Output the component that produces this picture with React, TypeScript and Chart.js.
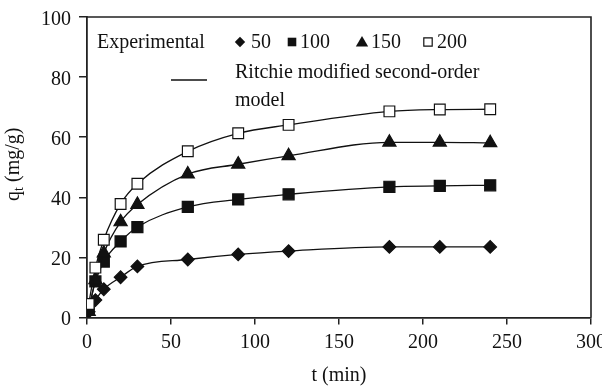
import React, { useEffect, useRef } from "react";
import { Chart, registerables } from "chart.js";

Chart.register(...registerables);

const times = [1, 5, 10, 20, 30, 60, 90, 120, 180, 210, 240];
const q50 = [1.9, 5.8, 9.4, 13.4, 17.0, 19.3, 21.0, 22.1, 23.5, 23.5, 23.5];
const q100 = [3.0, 12.0, 18.6, 25.3, 30.1, 36.8, 39.3, 41.0, 43.5, 43.8, 44.0];
const q150 = [2.0, 12.5, 21.4, 31.8, 37.6, 47.7, 51.0, 53.8, 58.3, 58.3, 58.1];
const q200 = [4.5, 16.6, 25.9, 37.8, 44.5, 55.3, 61.3, 64.1, 68.6, 69.2, 69.3];
const seriesLabels = ["50", "100", "150", "200"];
const xTitle = "t (min)";
const yTitleMain = "q";
const yTitleSub = "t";
const yTitleRest = " (mg/g)";
const legendHead = "Experimental";
const legendModel1 = "Ritchie modified second-order";
const legendModel2 = "model";

const FONT = "\"Liberation Serif\", \"DejaVu Serif\", serif";
const INK = "#111";

function drawMarker(ctx: CanvasRenderingContext2D, kind: string, x: number, y: number, s: number) {
  ctx.save();
  ctx.fillStyle = INK;
  ctx.strokeStyle = INK;
  ctx.lineWidth = 1.2;
  ctx.beginPath();
  if (kind === "diamond") {
    ctx.moveTo(x, y - s);
    ctx.lineTo(x + s, y);
    ctx.lineTo(x, y + s);
    ctx.lineTo(x - s, y);
    ctx.closePath();
    ctx.fill();
  } else if (kind === "square") {
    ctx.rect(x - s, y - s, 2 * s, 2 * s);
    ctx.fill();
  } else if (kind === "triangle") {
    ctx.moveTo(x, y - s * 1.05);
    ctx.lineTo(x + s * 1.1, y + s * 0.8);
    ctx.lineTo(x - s * 1.1, y + s * 0.8);
    ctx.closePath();
    ctx.fill();
  } else {
    ctx.fillStyle = "#fff";
    ctx.rect(x - s, y - s, 2 * s, 2 * s);
    ctx.fill();
    ctx.stroke();
  }
  ctx.restore();
}

const decorPlugin = {
  id: "decor",
  afterDraw(chart: any) {
    const ctx: CanvasRenderingContext2D = chart.ctx;
    const a = chart.chartArea;
    ctx.save();
    ctx.strokeStyle = "#222";
    ctx.lineWidth = 1.6;
    ctx.beginPath();
    ctx.moveTo(a.left, a.top);
    ctx.lineTo(a.right, a.top);
    ctx.lineTo(a.right, a.bottom);
    ctx.stroke();

    ctx.fillStyle = INK;
    ctx.textBaseline = "alphabetic";
    ctx.font = `20px ${FONT}`;
    const wMain = ctx.measureText(yTitleMain).width;
    const wRest = ctx.measureText(yTitleRest).width;
    ctx.font = `14px ${FONT}`;
    const wSub = ctx.measureText(yTitleSub).width;
    const total = wMain + wSub + wRest;
    const cy = (a.top + a.bottom) / 2 - 3;
    ctx.translate(19, cy);
    ctx.rotate(-Math.PI / 2);
    let x0 = -total / 2;
    ctx.font = `20px ${FONT}`;
    ctx.fillText(yTitleMain, x0, 0);
    x0 += wMain;
    ctx.font = `14px ${FONT}`;
    ctx.fillText(yTitleSub, x0, 4);
    x0 += wSub;
    ctx.font = `20px ${FONT}`;
    ctx.fillText(yTitleRest, x0, 0);
    ctx.setTransform(1, 0, 0, 1, 0, 0);

    ctx.textAlign = "center";
    ctx.textBaseline = "middle";
    ctx.font = `20px ${FONT}`;
    ctx.fillText(xTitle, (a.left + a.right) / 2, 376);

    ctx.textAlign = "left";
    ctx.textBaseline = "alphabetic";
    ctx.fillText(legendHead, 97, 48);
    const kinds = ["diamond", "square", "triangle", "open"];
    const mx = [240, 292, 362, 428];
    const tx = [251, 300, 371, 437];
    const ms = [5.2, 4.3, 5.6, 4.2];
    kinds.forEach((k, i) => {
      drawMarker(ctx, k, mx[i], 42, ms[i]);
      ctx.fillStyle = INK;
      ctx.fillText(seriesLabels[i], tx[i], 48);
    });
    ctx.strokeStyle = INK;
    ctx.lineWidth = 1.4;
    ctx.beginPath();
    ctx.moveTo(171, 80);
    ctx.lineTo(207, 80);
    ctx.stroke();
    ctx.fillStyle = INK;
    ctx.fillText(legendModel1, 235, 78);
    ctx.fillText(legendModel2, 235, 106);
    ctx.restore();
  },
};

function mk(label: string, ys: number[], style: string, radius: number, fill: string, order: number) {
  return {
    label,
    data: times.map((t, i) => ({ x: t, y: ys[i] })),
    borderColor: INK,
    borderWidth: 1.3,
    backgroundColor: fill,
    pointStyle: style,
    pointRadius: radius,
    pointBackgroundColor: fill,
    pointBorderColor: INK,
    pointBorderWidth: 1.2,
    cubicInterpolationMode: "monotone",
    showLine: true,
    order,
  };
}

export default function App() {
  const ref = useRef<HTMLCanvasElement | null>(null);
  useEffect(() => {
    if (!ref.current) return;
    const chart = new Chart(ref.current, {
      type: "scatter",
      data: {
        datasets: [
          mk(seriesLabels[0], q50, "rectRot", 6.3, INK, 4),
          mk(seriesLabels[1], q100, "rect", 7.8, INK, 3),
          mk(seriesLabels[2], q150, "triangle", 7.6, INK, 2),
          mk(seriesLabels[3], q200, "rect", 7.6, "#fff", 1),
        ] as any,
      },
      options: {
        animation: false,
        responsive: false,
        maintainAspectRatio: false,
        layout: { padding: { top: 17, right: 11, left: 0, bottom: 0 } },
        plugins: { legend: { display: false }, tooltip: { enabled: false } },
        scales: {
          x: {
            type: "linear",
            min: 0,
            max: 300,
            ticks: { stepSize: 50, color: INK, font: { family: FONT, size: 20 }, padding: 6, maxRotation: 0 },
            grid: { display: true, drawOnChartArea: false, drawTicks: true, tickLength: 7, color: "#222", lineWidth: 1.5 },
            border: { display: true, color: "#222", width: 1.8 },
            afterFit: (s: any) => {
              s.height = 68.5;
              s.paddingLeft = 0;
              s.paddingRight = 0;
            },
          },
          y: {
            min: 0,
            max: 100,
            ticks: { stepSize: 20, color: INK, font: { family: FONT, size: 20 }, padding: 8, labelOffset: 2.5 },
            grid: { display: true, drawOnChartArea: false, drawTicks: true, tickLength: 8, color: "#222", lineWidth: 1.5 },
            border: { display: true, color: "#222", width: 1.8 },
            afterFit: (s: any) => {
              s.width = 87;
              s.paddingTop = 0;
              s.paddingBottom = 0;
            },
          },
        },
      } as any,
      plugins: [decorPlugin],
    });
    let alive = true;
    const fs: any = (document as any).fonts;
    if (fs && fs.load) {
      Promise.all([
        fs.load(`20px "Liberation Serif"`),
        fs.load(`14px "Liberation Serif"`),
      ])
        .catch(() => null)
        .then(() => {
          if (alive) chart.update();
        });
    }
    return () => {
      alive = false;
      chart.destroy();
    };
  }, []);
  return (
    <div style={{ position: "fixed", left: 0, top: 0, width: 602, height: 386, background: "#fff" }}>
      <canvas ref={ref} width={602} height={386} style={{ display: "block", width: 602, height: 386 }} />
    </div>
  );
}
